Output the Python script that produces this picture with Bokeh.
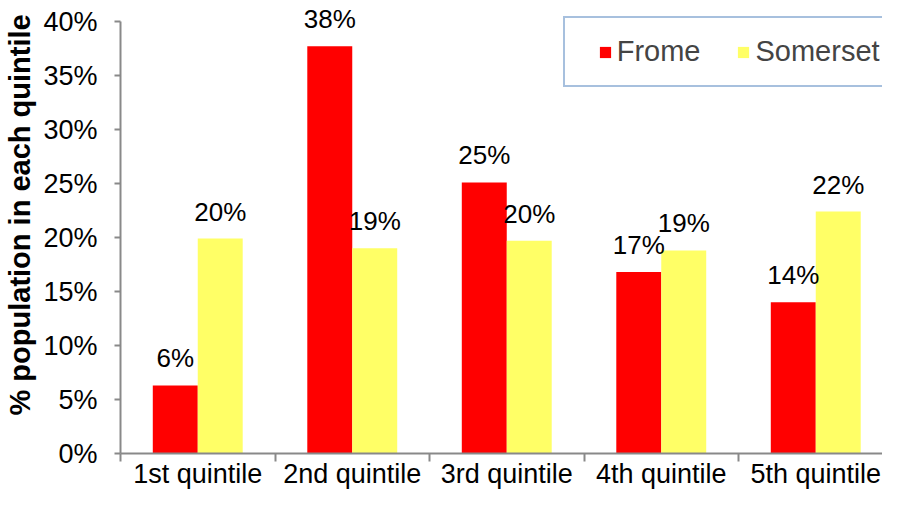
from bokeh.plotting import figure
from bokeh.models import (Range1d, FixedTicker, PrintfTickFormatter, Legend,
                          LegendItem, ColumnDataSource)
from bokeh.embed import file_html
from bokeh.resources import INLINE
from bokeh.core.properties import value

categories = ["1st quintile", "2nd quintile", "3rd quintile", "4th quintile", "5th quintile"]
frome = [6.3, 37.7, 25.1, 16.8, 14.0]
somerset = [19.9, 19.0, 19.7, 18.8, 22.4]
y_ticks = [0, 5, 10, 15, 20, 25, 30, 35, 40]
y_title = "% population in each quintile"

FONT = "Liberation Sans"
AXIS_COLOR = "#898989"
bar_w = 0.291
y_max = y_ticks[-1]
# headroom above the top tick so that data labels above the frame are not clipped
y_head = 21 / 10.8

centers = [i + 0.5 for i in range(len(categories))]
src = ColumnDataSource(dict(
    xf=[c - bar_w / 2 for c in centers],
    xs=[c + bar_w / 2 for c in centers],
    frome=frome,
    somerset=somerset,
    lf=[f"{round(v)}%" for v in frome],
    ls=[f"{round(v)}%" for v in somerset],
))

p = figure(width=882, height=491, output_backend="svg", toolbar_location=None,
           x_range=Range1d(0, 4.932), y_range=Range1d(0, y_max + y_head),
           min_border_left=120, min_border_right=0, min_border_top=0,
           min_border_bottom=38)
p.outline_line_color = None
p.xgrid.visible = False
p.ygrid.visible = False

r1 = p.vbar(x="xf", top="frome", width=bar_w, source=src,
            fill_color="#FF0000", line_color=None)
r2 = p.vbar(x="xs", top="somerset", width=bar_w, source=src,
            fill_color="#FFFF66", line_color=None)

for xcol, ycol, tcol in (("xf", "frome", "lf"), ("xs", "somerset", "ls")):
    p.text(x=xcol, y=ycol, text=tcol, source=src, y_offset=-27,
           text_align="center", text_baseline="alphabetic",
           text_font=value(FONT), text_font_size=value("26px"),
           text_color="black")

# x axis
xa = p.xaxis[0]
xa.ticker = FixedTicker(ticks=centers, minor_ticks=list(range(len(categories) + 1)))
xa.major_label_overrides = {c: lab for c, lab in zip(centers, categories)}
xa.major_tick_in = 0
xa.major_tick_out = 0
xa.minor_tick_in = 0
xa.minor_tick_out = 8
xa.minor_tick_line_color = AXIS_COLOR
xa.minor_tick_line_width = 2
xa.axis_line_color = AXIS_COLOR
xa.axis_line_width = 2
xa.major_label_text_font = FONT
xa.major_label_text_font_size = "27px"
xa.major_label_text_color = "black"
xa.major_label_standoff = -3

# y axis
ya = p.yaxis[0]
ya.ticker = FixedTicker(ticks=y_ticks, minor_ticks=[])
ya.bounds = (0, y_max)
ya.formatter = PrintfTickFormatter(format="%d%%")
ya.major_tick_in = 0
ya.major_tick_out = 6
ya.major_tick_line_color = AXIS_COLOR
ya.major_tick_line_width = 2
ya.minor_tick_line_color = None
ya.axis_line_color = AXIS_COLOR
ya.axis_line_width = 2
ya.major_label_text_font = FONT
ya.major_label_text_font_size = "27px"
ya.major_label_text_color = "black"
ya.major_label_standoff = 17
# leading no-break spaces nudge the centred title upwards, as in the original
ya.axis_label = "\u00a0" * 3 + y_title
ya.axis_label_text_font = FONT
ya.axis_label_text_font_style = "bold"
ya.axis_label_text_font_size = "29px"
ya.axis_label_text_color = "black"
ya.axis_label_standoff = 4

legend = Legend(
    items=[LegendItem(label="Frome", renderers=[r1]),
           LegendItem(label="Somerset", renderers=[r2])],
    orientation="horizontal", location=(442.7, 366),
    padding=17, spacing=36, label_standoff=5,
    glyph_width=14, glyph_height=14,
    label_text_font=FONT, label_text_font_size="29px",
    border_line_color="#4F81BD", border_line_width=2,
    title=" ", title_location="left", title_standoff=0,
    title_text_font_size="14px",
    background_fill_color="white", background_fill_alpha=1,
)
p.add_layout(legend)

open("out.html", "w").write(file_html(p, INLINE))
